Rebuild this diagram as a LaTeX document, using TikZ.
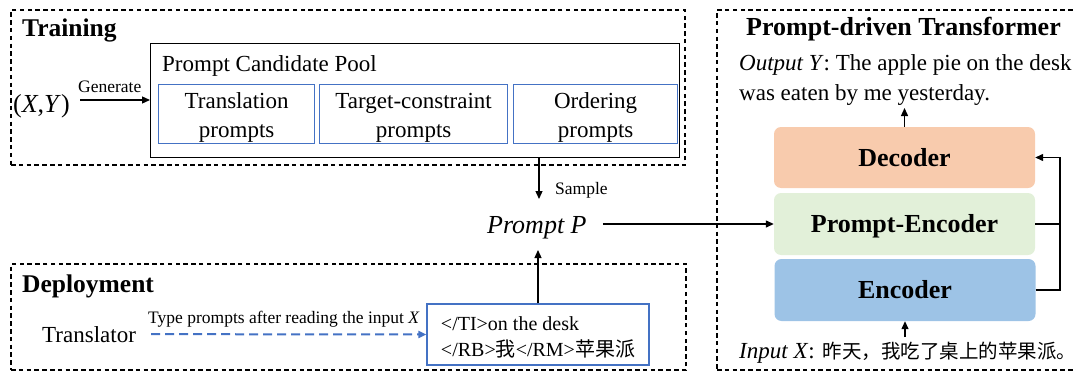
\documentclass[tikz,border=0pt]{standalone}
\usepackage{fontspec}
\setmainfont{Liberation Serif}
\newfontfamily\cjk{Noto Sans CJK SC}
\usetikzlibrary{arrows.meta}
\definecolor{boxblue}{HTML}{4472C4}
\definecolor{decfill}{HTML}{F8CBAD}
\definecolor{pefill}{HTML}{E2F0D9}
\definecolor{encfill}{HTML}{9DC3E6}
\begin{document}
\begin{tikzpicture}[x=1pt,y=-1pt,
  panelbox/.style={draw, line width=1.1pt, dash pattern=on 4.5pt off 3.3pt, anchor=north west, inner sep=0pt, outer sep=0pt},
  heading/.style={font=\fontsize{25.5}{30}\selectfont\bfseries, anchor=base west, inner sep=0pt},
  body/.style={font=\fontsize{23}{29}\selectfont, inner sep=0pt},
  small/.style={font=\fontsize{17.5}{21}\selectfont, anchor=base west, inner sep=0pt},
  candbox/.style={draw=boxblue, line width=1.3pt, minimum height=59pt, align=center, font=\fontsize{23}{29}\selectfont, inner sep=0pt, anchor=north west},
  layer/.style={rounded corners=7pt, minimum width=261pt, minimum height=61pt, font=\fontsize{26}{30}\selectfont\bfseries, text height=17.6pt, text depth=0pt, inner sep=0pt},
  arr/.style={-{Triangle[length=8pt,width=7pt]}, line width=1.3pt},
  conn/.style={line width=1.3pt}]
\useasboundingbox (0,0) rectangle (1076,372);

% panels
\node[panelbox, minimum width=674pt, minimum height=155pt] (train) at (11,10) {};
\node[heading] (traint) at (22,36) {Training};
\node[panelbox, minimum width=675pt, minimum height=106pt] (deploy) at (11,264) {};
\node[heading] (deployt) at (22,292) {Deployment};
\node[panelbox, minimum width=380pt, minimum height=360pt] (tfm) at (717,10) {};
\node[heading, font=\fontsize{26}{30}\selectfont\bfseries] (tfmt) at (746,35) {Prompt-driven Transformer};

% training
\node[draw, line width=1.3pt, anchor=north west, minimum width=529pt, minimum height=114pt, inner sep=0pt] (pool) at (150,43) {};
\node[body, anchor=base west] (poolt) at (162,71) {Prompt Candidate Pool};
\node[candbox, minimum width=156pt] (tp) at (158,84) {\rule{0pt}{23pt}Translation\\prompts};
\node[candbox, minimum width=188pt] (tcp) at (319,84) {\rule{0pt}{23pt}Target-constraint\\prompts};
\node[candbox, minimum width=164pt] (op) at (513,84) {\rule{0pt}{23pt}Ordering\\prompts};

\node[body, font=\fontsize{26}{30}\selectfont, anchor=base west] (xy) at (13,112) {(\textit{X},\textit{Y})};
\coordinate (genstart) at (80,100);
\draw[arr] (genstart) -- (genstart -| pool.west);
\node[small] (gent) at (78,92) {Generate};

% prompt P
\coordinate (sampletip) at (539,199);
\draw[arr] (sampletip |- pool.south) -- (sampletip);
\node[small] (samplet) at (555,194) {Sample};
\node[font=\fontsize{26}{30}\selectfont\itshape, anchor=base west, inner sep=0pt] (pp) at (487,233) {Prompt P};

% transformer
\node[layer, fill=decfill] (dec) at (904.5,157.5) {Decoder};
\node[layer, fill=pefill, minimum height=62pt] (pe) at (904.5,224) {Prompt-Encoder};
\node[layer, fill=encfill, minimum height=62pt] (enc) at (905,290) {Encoder};
\draw[arr] ([xshift=16pt]pe.west -| pp.east) -- (pe.west);

\node[body, anchor=north west, align=left, font=\fontsize{23}{30}\selectfont] (out) at (739,54) {\textit{Output Y}: The apple pie on the desk\\was eaten by me yesterday.};
\node[body, anchor=base west] (inp) at (739,358) {\textit{Input X}:\hspace{8pt}{\cjk\fontsize{19.5}{24}\selectfont 昨天，我吃了桌上的苹果派。}};
\coordinate (outtip) at (905,108);
\draw[arr] (dec.north) -- (dec.north |- outtip);
\coordinate (intail) at (905,337);
\draw[arr] (enc.south |- intail) -- (enc.south);
\coordinate (fb) at (1060,0);
\draw[arr] (enc.east) -- (enc.east -| fb) |- (dec.east);
\draw[conn] (pe.east) -- (pe.east -| fb);

% deployment
\node[body, anchor=base west] (trn) at (42,342) {Translator};
\node[draw=boxblue, line width=1.3pt, minimum width=222pt, minimum height=61pt, align=left, font=\fontsize{20}{26}\selectfont, inner sep=0pt] (dbox) at (538,334.5) {\rule{0pt}{19.5pt}</TI>on the desk\\</RB>{\cjk 我}</RM>{\cjk 苹果派}};
\node[small] (typet) at (148,323) {Type prompts after reading the input \textit{X}};
\draw[arr, draw=boxblue, dash pattern=on 9pt off 5pt, line width=2pt] ([xshift=15pt]trn.east) -- (dbox.west);
\coordinate (pptip) at (539,250);
\draw[arr] (dbox.north) -- (dbox.north |- pptip);
\end{tikzpicture}
\end{document}
